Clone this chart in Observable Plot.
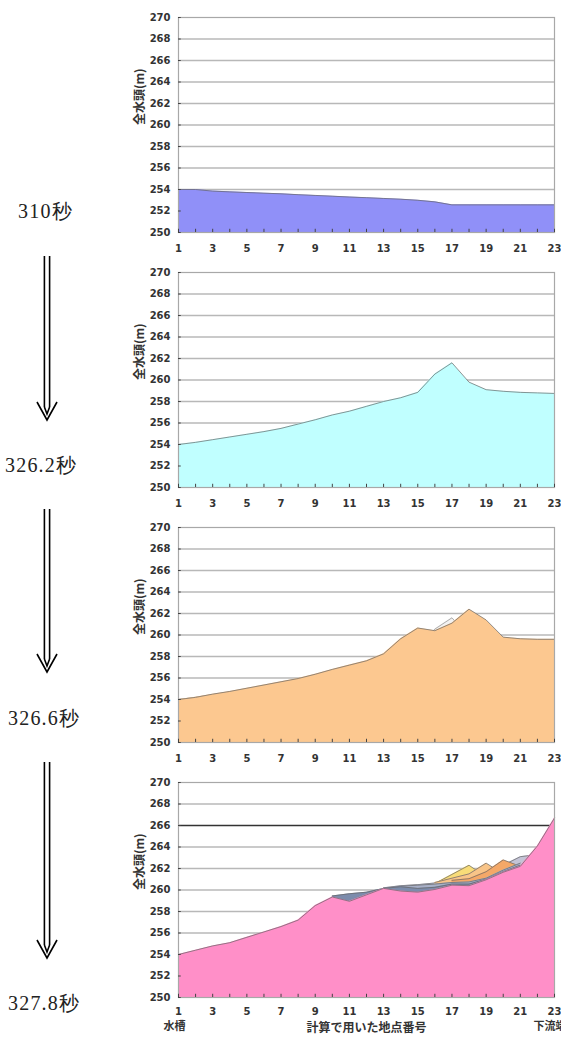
<!DOCTYPE html>
<html><head><meta charset="utf-8">
<script src="https://cdn.jsdelivr.net/npm/d3@7"></script>
<script src="https://cdn.jsdelivr.net/npm/@observablehq/plot@0.6"></script>
<style>
html,body{margin:0;padding:0;background:#fff;}
#wrap{position:relative;width:561px;height:1037px;overflow:hidden;background:#fff;}
.panel{position:absolute;left:0;}
#overlay{position:absolute;left:0;top:0;z-index:5;pointer-events:none;}
</style></head><body><div id="wrap"></div>
<script>
// ---- data ----
const points = d3.range(1, 24);              // 計算で用いた地点番号 1..23
const yTicks = d3.range(250, 271, 2);
const xTickLabels = d3.range(1, 24, 2);
const timeLabels = ["310秒", "326.2秒", "326.6秒", "327.8秒"];

const head310  = [254.0, 254.0, 253.85, 253.78, 253.72, 253.66, 253.6, 253.52, 253.45, 253.38, 253.3, 253.24, 253.17, 253.1, 253.0, 252.85, 252.57, 252.57, 252.57, 252.57, 252.57, 252.57, 252.57];
const head3262 = [254.0, 254.2, 254.45, 254.7, 254.95, 255.2, 255.5, 255.9, 256.3, 256.75, 257.1, 257.55, 258.0, 258.35, 258.85, 260.55, 261.6, 259.8, 259.1, 258.95, 258.85, 258.8, 258.75];
const head3266 = [254.0, 254.2, 254.5, 254.75, 255.05, 255.35, 255.65, 255.95, 256.35, 256.8, 257.2, 257.6, 258.25, 259.65, 260.65, 260.4, 261.1, 262.4, 261.4, 259.8, 259.65, 259.6, 259.6];
const head3278 = [254.0, 254.4, 254.8, 255.1, 255.6, 256.1, 256.6, 257.2, 258.55, 259.35, 258.95, 259.55, 260.15, 259.9, 259.8, 260.05, 260.45, 260.4, 260.95, 261.65, 262.2, 264.1, 266.7];

// back layers visible behind the 327.8 s profile (3-D area chart depth series)
const backGrayN   = [13, 14, 15, 16, 17, 18, 19, 20, 21, 22];
const backGrayH   = [260.2, 260.4, 260.5, 260.65, 260.85, 260.95, 261.45, 262.3, 263.1, 263.3];
const yellowN     = [16, 17, 18, 19, 20];
const yellowH     = [260.6, 261.45, 262.3, 261.2, 261.0];
const ltOrangeN   = [16, 17, 18, 19, 20, 21];
const ltOrangeH   = [260.7, 261.1, 261.5, 262.5, 261.5, 261.4];
const orangeN     = [17, 18, 19, 20, 21];
const orangeH     = [260.9, 261.05, 261.7, 262.8, 262.2];
const midGrayN    = [13, 14, 15, 16, 17, 18, 19, 20, 21];
const midGrayH    = [260.15, 260.35, 260.45, 260.55, 260.7, 260.75, 261.1, 261.85, 262.5];
const slateN      = [10, 11, 12, 13, 14, 15, 16, 17, 18, 19, 20, 21];
const slateH      = [259.45, 259.65, 259.8, 260.15, 260.3, 260.15, 260.25, 260.55, 260.55, 261.0, 261.7, 262.3];

const toRows = (ns, hs) => ns.map((x, i) => ({x, y: hs[i]}));
const series = vals => toRows(points, vals);

const tickFont = "'DejaVu Sans', sans-serif";
const cjkFont = "'Noto Sans CJK JP', sans-serif";

function layer(rows, fill, stroke = "#666", sw = 0.7) {
  return [
    Plot.areaY(rows, {x: "x", y1: 250, y2: "y", fill}),
    Plot.line(rows, {x: "x", y: "y", stroke, strokeWidth: sw})
  ];
}

function panel({layers, bottom = false, darkRule = null}) {
  const marks = [
    Plot.ruleY(yTicks.filter(v => v > 250 && v < 270), {
      y: d => d,
      stroke: d => d === darkRule ? "#333" : "#b8b8b8",
      strokeWidth: 1.3
    }),
    ...layers.flat(),
    Plot.frame({stroke: "#a8a8a8", strokeWidth: 1.2}),
    Plot.ruleX(points, {x: d => d, y1: 250, y2: 250.3, stroke: "#444", strokeWidth: 1}),
    Plot.ruleY(yTicks, {y: d => d, x1: 1, x2: 1.16, stroke: "#444", strokeWidth: 1}),
    Plot.axisX({ticks: xTickLabels, tickSize: 0, tickPadding: bottom ? 10 : 12, tickFormat: d => String(d), label: null, fontWeight: "bold"}),
    Plot.axisY({ticks: yTicks, tickSize: 0, tickPadding: 8, label: null, fontWeight: "bold"}),
    Plot.text(["全水頭(m)"], {text: d => d, frameAnchor: "left", dx: -38, rotate: -90,
      fontSize: 12, fontWeight: "bold", fontFamily: cjkFont, fill: "#333"})
  ];
  if (bottom) {
    marks.push(
      Plot.text([{x: 1, t: "水槽"}], {x: "x", text: "t", frameAnchor: "bottom", dx: -4, dy: 32,
        fontSize: 11, fontWeight: "bold", fontFamily: cjkFont, fill: "#333", lineHeight: 1}),
      Plot.text([{x: 23, t: "下流端"}], {x: "x", text: "t", frameAnchor: "bottom", dx: -21, dy: 32, textAnchor: "start",
        fontSize: 11, fontWeight: "bold", fontFamily: cjkFont, fill: "#333"}),
      Plot.text(["計算で用いた地点番号"], {text: d => d, frameAnchor: "bottom", dy: 34,
        fontSize: 12, fontWeight: "bold", fontFamily: cjkFont, fill: "#333"})
    );
  }
  return Plot.plot({
    width: 561, height: bottom ? 272 : 255,
    marginLeft: 178, marginRight: 7, marginTop: 17, marginBottom: bottom ? 40 : 23,
    x: {domain: [1, 23]},
    y: {domain: [250, 270]},
    style: {fontFamily: tickFont, fontSize: "10px", color: "#333", background: "transparent", overflow: "visible"},
    marks
  });
}

const panels = [
  {top: 0,   layers: [layer(series(head310), "#9090f8")]},
  {top: 255, layers: [layer(series(head3262), "#c0ffff")]},
  {top: 510, layers: [layer(series(head3262), "#f2f2f2", "#999", 0.8), layer(series(head3266), "#fcc890")]},
  {top: 765, bottom: true, darkRule: 266, layers: [
    layer(toRows(backGrayN, backGrayH), "#c4c4d6"),
    layer(toRows(yellowN, yellowH), "#f8dc78"),
    layer(toRows(ltOrangeN, ltOrangeH), "#f8c488"),
    layer(toRows(orangeN, orangeH), "#f4a868"),
    layer(toRows(midGrayN, midGrayH), "#a8b0c8"),
    layer(toRows(slateN, slateH), "#7c8cac"),
    layer(series(head3278), "#ff8fc8")
  ]}
];

const wrap = document.getElementById("wrap");
for (const p of panels) {
  const div = document.createElement("div");
  div.className = "panel";
  div.style.top = p.top + "px";
  div.appendChild(panel(p));
  wrap.appendChild(div);
}

// ---- left side: time labels and double arrows ----
const labelPos = [
  {x: 18, y: 218}, {x: 5, y: 472}, {x: 8, y: 725}, {x: 8, y: 1010}
];
const arrows = [
  {top: 256, tip: 420}, {top: 509, tip: 672}, {top: 762, tip: 958}
];
const svg = d3.select(wrap).append("svg").attr("id", "overlay")
  .attr("width", 561).attr("height", 1037);
svg.selectAll("text").data(timeLabels).join("text")
  .attr("x", (d, i) => labelPos[i].x).attr("y", (d, i) => labelPos[i].y)
  .attr("font-family", "'Liberation Serif', 'DejaVu Serif', serif")
  .attr("font-size", 20).attr("letter-spacing", "1.2px").attr("fill", "#222")
  .text(d => d);
const cx = 47;
for (const a of arrows) {
  const g = svg.append("g").attr("stroke", "#000").attr("stroke-width", 1.6).attr("fill", "none");
  g.append("line").attr("x1", cx - 2.6).attr("x2", cx - 2.6).attr("y1", a.top).attr("y2", a.tip - 13);
  g.append("line").attr("x1", cx + 2.6).attr("x2", cx + 2.6).attr("y1", a.top).attr("y2", a.tip - 13);
  g.append("path").attr("d", `M${cx - 10},${a.tip - 18}L${cx},${a.tip}L${cx + 10},${a.tip - 18}`);
  g.append("path").attr("d", `M${cx - 2.6},${a.tip - 13}L${cx},${a.tip - 6}L${cx + 2.6},${a.tip - 13}`);
}
</script></body></html>
